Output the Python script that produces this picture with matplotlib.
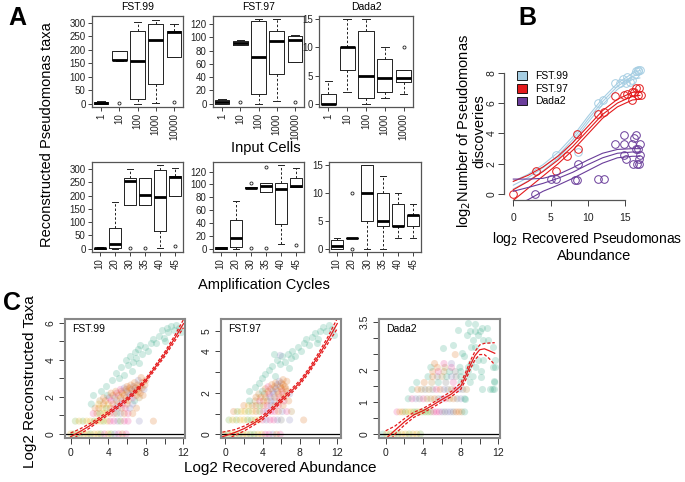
import matplotlib
matplotlib.use('Agg')
import matplotlib.pyplot as plt
from matplotlib.patches import Patch

plt.rcParams['font.family'] = ['Liberation Sans', 'DejaVu Sans']

W, H = 685, 482
fig = plt.figure(figsize=(W / 100, H / 100), dpi=100)


def px_ax(l, t, r, b):
    # axes placed by pixel box (left, top, right, bottom)
    return fig.add_axes([l / W, 1 - b / H, (r - l) / W, (b - t) / H])


#----------------------------------------------------------------------
# Panel A data : (whisker low, q1, median, q3, whisker high)
cells_labels = ['1', '10', '100', '1000', '10000']
cycle_labels = ['10', '20', '30', '35', '40', '45']

fst99_cells = [(0, 0, 2, 6, 8), (158, 160, 163, 195, 197), (0, 16, 158, 269, 302),
               (2, 74, 236, 296, 312), (174, 174, 265, 271, 294)]
fst99_cells_out = [[], [2], [], [], [5]]
fst97_cells = [(0, 0, 2, 6, 7), (88, 89, 91, 95, 96), (0, 15, 70, 125, 127),
               (4, 44, 95, 110, 127), (63, 63, 96, 102, 103)]
fst97_cells_out = [[], [2], [], [], [2]]
dada2_cells = [(0, 0, 0, 1.8, 4), (2, 6, 10, 10, 15), (0, 1, 4.9, 13, 15),
               (1, 2, 4.5, 8, 10), (1.8, 3.9, 4.6, 6, 6)]
dada2_cells_out = [[], [], [], [], [10]]

fst99_cycles = [(0, 0, 2, 4, 5), (0, 2.5, 17, 77, 176), (163, 163, 254, 266, 300),
                (163, 163, 204, 267, 267), (4, 68, 194, 296, 315), (197, 197, 272, 275, 304)]
fst99_cycles_out = [[], [], [2], [2], [], [10]]
fst97_cycles = [(0, 0, 1, 2, 2), (0, 2, 16, 44, 75), (94, 94, 95, 96, 96),
                (89, 89, 98, 103, 103), (8, 39, 93, 103, 130), (96, 96, 97, 110, 125)]
fst97_cycles_out = [[], [], [1, 103], [1, 127], [], [6]]
dada2_cycles = [(0, 0, 0.5, 1.5, 2), (2, 2, 2, 2, 2), (0, 5, 10, 15, 15),
                (0, 4, 5, 10, 13), (2, 4, 4, 8, 10), (2, 4, 6, 6, 8)]
dada2_cycles_out = [[], [0, 10], [], [], [], []]

#----------------------------------------------------------------------
# Panel B data
b99_x = [5.8, 8.7, 11.4, 12.1, 13.6, 14.3, 14.8, 15.2, 15.7, 16.0, 16.3, 16.5, 16.8, 17.0, 16.7, 15.3]
b99_y = [2.6, 2.8, 6.0, 6.2, 7.3, 7.3, 7.6, 7.3, 7.4, 7.5, 7.9, 8.1, 8.2, 8.2, 8.1, 7.7]
b97_x = [0.0, 3.0, 5.7, 7.2, 8.5, 8.7, 11.4, 12.2, 13.7, 14.9, 15.3, 15.9, 16.0, 16.2, 16.5, 16.9, 16.8, 17.1]
b97_y = [0.0, 1.56, 1.56, 2.54, 3.95, 3.0, 5.25, 5.4, 6.45, 6.5, 6.6, 6.2, 6.7, 6.75, 7.0, 7.0, 6.55, 6.5]
bd2_x = [2.9, 5.1, 5.8, 8.3, 8.6, 8.7, 11.4, 12.2, 13.7, 14.9, 14.9, 14.9, 15.2, 15.9, 16.2,
         16.5, 16.5, 16.1, 16.6, 16.9, 16.9, 17.0, 17.0, 16.8]
bd2_y = [0.0, 1.0, 1.0, 0.95, 0.95, 2.0, 1.0, 1.0, 3.3, 3.9, 3.3, 2.6, 2.3, 3.3, 3.7,
         3.9, 3.0, 2.0, 2.0, 2.0, 2.3, 2.6, 3.3, 3.0]

# loess fits (lower, centre, upper)
bfit_x = [0, 2, 4, 6, 8, 10, 12, 14, 16, 17]
b99_mid = [0.6, 1.1, 1.75, 2.55, 3.6, 4.9, 6.1, 7.1, 7.75, 7.9]
b99_lo = [0.35, 0.88, 1.55, 2.35, 3.4, 4.7, 5.9, 6.9, 7.55, 7.65]
b99_hi = [0.85, 1.32, 1.95, 2.75, 3.8, 5.1, 6.3, 7.3, 7.95, 8.15]
b97_mid = [0.3, 0.85, 1.5, 2.25, 3.15, 4.2, 5.25, 6.0, 6.45, 6.5]
b97_lo = [-0.4, 0.4, 1.2, 2.0, 2.9, 3.95, 5.0, 5.75, 6.2, 6.25]
b97_hi = [0.85, 1.25, 1.8, 2.5, 3.4, 4.45, 5.5, 6.25, 6.7, 6.75]
bd2_mid = [0.2, 0.45, 0.72, 1.05, 1.45, 1.95, 2.4, 2.7, 2.78, 2.78]
bd2_lo = [-0.8, -0.35, 0.2, 0.6, 1.05, 1.55, 2.05, 2.4, 2.5, 2.5]
bd2_hi = [1.0, 1.0, 1.05, 1.3, 1.75, 2.25, 2.7, 2.95, 3.0, 3.0]

#----------------------------------------------------------------------
# Panel C data : rows of (y level, x values, colour codes)
dark2 = {'g': '#1B9E77', 'o': '#D95F02', 'p': '#7570B3', 'k': '#E7298A',
         'l': '#66A61E', 'y': '#E6AB02', 'b': '#A6761D', 'n': '#666666'}

c99_rows = [
    (0.00, [0.0, 0.3, 0.7, 1.0, 1.4, 1.8, 2.1, 2.5, 2.9, 3.2, 3.6, 4.0, 4.3, 4.7, 5.1, 5.5, 5.9], 'ylylyylyylkylpkok'),
    (0.69, [0.5, 0.9, 1.3, 1.7, 2.1, 2.5, 2.8, 3.2, 3.5, 3.9, 4.2, 4.6, 5.0, 5.3, 5.7, 6.1, 7.3, 8.8], 'lylyylyylykkplkkpo'),
    (1.10, [2.4, 2.8, 3.1, 3.5, 3.8, 4.2, 4.6, 4.9, 5.3, 5.7, 6.1, 6.6], 'kolyyoklpoko'),
    (1.39, [2.6, 3.0, 3.4, 3.8, 4.2, 4.6, 5.0, 5.4, 5.8, 6.3, 7.0], 'ooylokpokpo'),
    (1.61, [2.2, 3.0, 3.5, 4.0, 4.5, 5.0, 5.5, 6.0, 6.6], 'gyoyopkop'),
    (1.79, [3.1, 3.7, 4.3, 4.9, 5.5, 6.1, 6.8], 'bokopog'),
    (1.95, [3.5, 4.1, 4.7, 5.3, 5.9, 6.6, 7.3], 'okpookb'),
    (2.08, [3.9, 4.5, 5.1, 5.7, 6.3, 7.0, 7.7], 'gooopoo'),
    (2.20, [4.3, 4.9, 5.5, 6.1, 6.7, 7.4], 'okopoo'),
    (2.30, [4.8, 5.4, 6.0, 6.6, 7.2], 'ooopo'),
    (2.40, [5.3, 5.9, 6.5, 7.1, 7.8], 'kooop'),
    (2.48, [5.7, 6.3, 6.9, 7.6], 'pooo'),
    (2.56, [6.0, 6.7, 7.4], 'opo'),
    (2.64, [6.4, 7.1, 7.9], 'ooo'),
    (2.77, [6.8, 7.6], 'oo'),
    (2.89, [7.2, 8.0], 'po'),
    (3.04, [7.5], 'o'),
]
c99_gx = [2.4, 3.2, 3.8, 4.4, 4.8, 5.1, 5.4, 5.7, 5.9, 6.1, 6.3, 6.6, 6.8, 7.0, 7.2, 7.4, 7.6, 7.9,
          8.2, 8.5, 8.8, 9.1, 9.4, 9.7, 9.9, 10.2, 10.4, 10.7, 11.0, 11.2, 11.5, 11.7, 10.0, 6.5, 7.3]
c99_gy = [2.1, 2.3, 2.6, 2.9, 3.3, 3.0, 3.6, 3.2, 4.0, 3.7, 4.2, 3.9, 4.4, 4.1, 4.6, 4.8, 4.3, 4.7,
          4.5, 4.9, 5.1, 4.9, 5.3, 5.6, 5.2, 5.7, 5.5, 5.8, 5.6, 5.9, 5.7, 5.5, 5.0, 3.4, 3.8]

c97_rows = [
    (0.00, [-0.1, 0.3, 0.7, 1.1, 1.5, 1.9, 2.3, 2.7, 3.1, 3.5, 3.9, 4.3, 4.7, 5.1, 5.5, 5.9], 'ylyylyyllyykkpok'),
    (0.69, [0.4, 0.8, 1.2, 1.6, 2.0, 2.4, 2.8, 3.2, 3.6, 4.0, 4.4, 4.8, 5.2, 5.6, 6.0, 6.9, 8.4], 'lylyyllyykpkkpnpo'),
    (1.10, [0.9, 1.3, 1.7, 2.1, 2.5, 2.9, 3.3, 3.7, 4.1, 4.5, 4.9, 5.3, 5.7, 6.1, 6.6, 7.1], 'olyylyolkpkkopkb'),
    (1.39, [2.0, 2.5, 2.9, 3.3, 3.7, 4.1, 4.5, 4.9, 5.3, 5.7, 6.2], 'oybolokpoko'),
    (1.61, [2.6, 3.2, 3.7, 4.1, 4.5, 4.9, 5.3, 5.8, 6.3, 6.8], 'gbkooppoko'),
    (1.79, [3.3, 3.8, 4.3, 4.8, 5.3, 5.8, 6.3], 'oobpoko'),
    (1.95, [3.6, 4.2, 4.7, 5.2, 5.7, 6.2, 6.9], 'bokpoop'),
    (2.08, [4.0, 4.6, 5.1, 5.6, 6.1, 6.6], 'gopoko'),
    (2.20, [4.3, 4.9, 5.4, 6.0, 6.5], 'oopoo'),
    (2.30, [4.6, 5.3, 5.9, 6.4], 'kooo'),
    (2.40, [5.0, 5.6, 6.2], 'opo'),
    (2.48, [5.4, 6.0], 'oo'),
    (2.56, [5.8, 6.6], 'po'),
    (2.64, [6.2], 'o'),
    (3.81, [5.9], 'p'),
]
c97_gx = [2.6, 3.2, 3.6, 3.9, 4.3, 4.7, 5.0, 5.3, 5.6, 5.9, 6.1, 6.4, 6.7, 7.0, 7.2, 7.5, 7.8,
          8.1, 8.4, 8.7, 9.0, 9.3, 9.6, 9.9, 10.2, 10.5, 10.8, 11.1, 11.4, 11.7, 9.8, 6.8, 5.2]
c97_gy = [2.1, 2.3, 2.5, 2.7, 2.9, 3.1, 3.3, 2.8, 3.6, 3.4, 3.8, 3.5, 3.9, 3.7, 4.0, 3.8, 4.2,
          4.0, 4.4, 4.6, 4.3, 4.7, 4.9, 4.6, 5.0, 5.2, 5.0, 5.3, 5.1, 4.8, 4.4, 3.2, 3.9]

cd2_rows = [
    (0.00, [-0.3, 0.1, 0.5, 0.9, 1.3, 1.7, 2.1, 2.5, 2.9, 3.3, 3.7], 'gylylyylyyl'),
    (0.69, [1.2, 1.5, 1.8, 2.1, 2.4, 2.7, 3.0, 3.3, 3.6, 3.9, 4.2, 4.5, 4.8, 5.1, 5.4, 5.7,
            6.0, 6.3, 6.6, 6.9, 7.2, 7.5, 7.8, 8.1, 8.4], 'kyolyyllyllllkkkpnppnoobg'),
    (1.10, [2.4, 2.8, 3.2, 3.6, 4.0, 4.4, 4.8, 5.2, 5.6, 6.0, 6.4, 6.8, 7.2, 7.6, 8.0, 8.4], 'gkpnkbbonpkbonpg'),
    (1.39, [2.8, 3.4, 3.8, 4.2, 4.6, 5.0, 5.4, 5.8, 6.2, 6.6, 7.0, 7.4, 7.8, 8.2, 8.6, 10.3, 11.4],
     'gobnbnkopnbkpnbgg'),
    (1.61, [3.3, 4.1, 4.9, 5.6, 6.4, 7.2, 8.0, 9.0, 11.6], 'gobgnkggg'),
    (1.79, [4.5, 5.0, 5.5, 6.0, 6.5, 7.0, 7.5, 8.0, 8.6, 9.3], 'gonbgpnggg'),
    (1.95, [5.0, 5.6, 6.2, 6.8, 7.4, 8.0, 8.8], 'okbgngg'),
    (2.08, [4.8, 5.5, 6.3, 7.0, 7.9, 8.8, 9.6], 'gobkggg'),
    (2.20, [5.2, 6.2, 7.0, 9.1], 'okpg'),
    (2.48, [7.4], 'o'),
]
cd2_gx = [7.7, 8.8, 9.5, 9.0, 9.5, 10.0, 10.2, 10.8, 9.8, 9.3, 10.4, 10.9, 9.1, 9.5, 11.4, 8.1, 8.3,
          9.8, 10.3, 11.6, 11.4, 11.6, 10.1, 10.1, 11.5, 11.1, 11.5, 6.1, 7.2, 8.6, 8.4]
cd2_gy = [3.25, 3.46, 3.44, 3.2, 3.2, 3.2, 3.3, 3.3, 3.09, 2.92, 2.92, 2.92, 2.73, 2.73, 2.73, 2.52, 2.45,
          2.31, 2.31, 2.31, 2.1, 2.1, 1.97, 1.79, 1.64, 1.40, 1.40, 2.67, 2.77, 3.1, 1.10]

# red fits : x, centre, band
c99_fx = [0, 1, 2, 3, 4, 5, 6, 7, 8, 9, 10, 11, 12]
c99_mid = [-0.15, 0.13, 0.43, 0.77, 1.12, 1.48, 1.86, 2.35, 2.9, 3.6, 4.3, 5.1, 5.95]
c99_band = [0.2, 0.14, 0.12, 0.1, 0.1, 0.1, 0.1, 0.1, 0.1, 0.11, 0.12, 0.15, 0.22]
c97_fx = [-0.3, 1, 2, 3, 4, 5, 6, 7, 8, 9, 10, 11, 12]
c97_mid = [-0.12, 0.08, 0.27, 0.52, 0.8, 1.2, 1.65, 2.05, 2.5, 3.1, 3.8, 4.55, 5.35]
c97_band = [0.22, 0.14, 0.12, 0.1, 0.1, 0.1, 0.1, 0.1, 0.1, 0.11, 0.13, 0.16, 0.25]
cd2_fx = [0, 1, 2, 3, 4, 5, 6, 7, 8, 8.5, 9, 9.5, 10, 10.5, 11, 11.6]
cd2_mid = [-0.15, 0.12, 0.38, 0.6, 0.73, 0.9, 1.08, 1.25, 1.5, 1.8, 2.15, 2.45, 2.63, 2.66, 2.6, 2.52]
cd2_lo = [-0.4, 0.0, 0.28, 0.52, 0.66, 0.83, 1.0, 1.17, 1.4, 1.68, 2.02, 2.32, 2.48, 2.48, 2.36, 2.16]
cd2_hi = [0.1, 0.25, 0.48, 0.68, 0.8, 0.97, 1.16, 1.33, 1.6, 1.92, 2.28, 2.58, 2.78, 2.83, 2.84, 2.85]

#----------------------------------------------------------------------
# Panel A : boxplots
def box_panel(ax, stats, outs, labels, yticks, ylim, title=None):
    bs = [dict(whislo=s[0], q1=s[1], med=s[2], q3=s[3], whishi=s[4], fliers=o)
          for s, o in zip(stats, outs)]
    pos = list(range(1, len(bs) + 1))
    ax.bxp(bs, positions=pos, widths=0.8, capwidths=0.4,
           boxprops=dict(color='#222222', lw=0.7),
           medianprops=dict(color='black', lw=2.0),
           whiskerprops=dict(color='#222222', lw=0.7, ls=(0, (2.5, 2))),
           capprops=dict(color='#222222', lw=0.7),
           flierprops=dict(marker='o', ms=2.2, mfc='none', mec='#222222', mew=0.6))
    ax.set_xlim(0.5, len(bs) + 0.5)
    ax.set_ylim(*ylim)
    ax.set_yticks(yticks)
    ax.set_xticks(pos, labels, rotation=90)
    ax.tick_params(labelsize=7, length=3, width=0.6, pad=1.5, colors='#222222')
    for s in ax.spines.values():
        s.set_color('#555555')
        s.set_linewidth(0.9)
    if title:
        ax.set_title(title, fontsize=7.5, pad=4)


ax = px_ax(92, 16, 183, 107)
box_panel(ax, fst99_cells, fst99_cells_out, cells_labels, range(0, 301, 50), (-12.5, 325), 'FST.99')
ax = px_ax(213, 16, 304, 107)
box_panel(ax, fst97_cells, fst97_cells_out, cells_labels, range(0, 121, 20), (-5.1, 132), 'FST.97')
ax = px_ax(319, 16, 413, 107)
box_panel(ax, dada2_cells, dada2_cells_out, cells_labels, range(0, 16, 5), (-0.6, 15.6), 'Dada2')
ax = px_ax(92, 162, 183, 252)
box_panel(ax, fst99_cycles, fst99_cycles_out, cycle_labels, range(0, 301, 50), (-12.6, 327))
ax = px_ax(213, 162, 304, 252)
box_panel(ax, fst97_cycles, fst97_cycles_out, cycle_labels, range(0, 121, 20), (-5.2, 135))
ax = px_ax(329, 162, 421, 252)
box_panel(ax, dada2_cycles, dada2_cycles_out, cycle_labels, range(0, 16, 5), (-0.6, 15.6))

fig.text(47 / W, 1 - 135 / H, 'Reconstructed Pseudomonas taxa', rotation=90,
         ha='center', va='center', fontsize=10.5)
fig.text(266 / W, 1 - 148 / H, 'Input Cells', ha='center', va='center', fontsize=10.5)
fig.text(264 / W, 1 - 285 / H, 'Amplification Cycles', ha='center', va='center', fontsize=10.5)

#----------------------------------------------------------------------
# Panel B : discoveries vs abundance
axb = px_ax(504, 65, 648, 200)
series_b = [
    (b99_x, b99_y, b99_lo, b99_mid, b99_hi, '#A6CEE3', 'FST.99'),
    (b97_x, b97_y, b97_lo, b97_mid, b97_hi, '#E31A1C', 'FST.97'),
    (bd2_x, bd2_y, bd2_lo, bd2_mid, bd2_hi, '#6A3D9A', 'Dada2'),
]
handles = []
for xs, ys, lo, mid, hi, col, lab in series_b:
    axb.plot(xs, ys, 'o', ms=5.5, mfc='none', mec=col, mew=0.7)
    for line in (lo, mid, hi):
        axb.plot(bfit_x, line, color=col, lw=0.8)
    handles.append(Patch(facecolor=col, edgecolor='black', lw=0.6, label=lab))
axb.set_xlim(-1.25, 18.1)
axb.set_ylim(-0.375, 8.5)
axb.set_xticks([0, 5, 10, 15])
axb.set_yticks([0, 2, 4, 6, 8])
for side in ('top', 'right'):
    axb.spines[side].set_visible(False)
axb.spines['left'].set_bounds(0, 8)
axb.spines['bottom'].set_bounds(0, 15)
for side in ('left', 'bottom'):
    axb.spines[side].set_color('#555555')
    axb.spines[side].set_linewidth(0.9)
axb.tick_params(labelsize=7.5, length=4, width=0.6, colors='#222222')
axb.tick_params(axis='y', pad=1.5)
axb.tick_params(axis='x', pad=5)
for t in axb.get_yticklabels():
    t.set_rotation(90)
    t.set_va('center')
axb.legend(handles=handles, loc='upper left', bbox_to_anchor=(0.05, 1.0), frameon=False,
           fontsize=7.5, handlelength=0.9, handleheight=0.9, handletextpad=0.8,
           labelspacing=0.25, borderaxespad=0.2)
fig.text(471 / W, 1 - 131 / H, 'log$_2$Number of Pseudomonas\ndiscoveries', rotation=90,
         ha='center', va='center', multialignment='center', linespacing=0.95, fontsize=10.5)
fig.text(587 / W, 1 - 239 / H, r'log$_2$ Recovered Pseudomonas', ha='center', va='center', fontsize=10)
fig.text(594 / W, 1 - 256 / H, 'Abundance', ha='center', va='center', fontsize=10.5)

#----------------------------------------------------------------------
# Panel C : scatter with fits
def scatter_panel(ax, rows, gx, gy, fx, mid, lo, hi, name, xlim, ylim, yticks, ylabels):
    xs, ys, cs = [], [], []
    for yv, xv, codes in rows:
        for x, c in zip(xv, codes):
            xs.append(x)
            ys.append(yv)
            cs.append(dark2[c])
    ax.scatter(gx, gy, s=26, color=dark2['g'], alpha=0.2, lw=0)
    ax.scatter(xs, ys, s=26, c=cs, alpha=0.2, lw=0)
    ax.axhline(0, color='black', lw=0.9)
    ax.plot(fx, mid, color='#E41A1C', lw=0.9)
    ax.plot(fx, lo, color='#E41A1C', lw=0.9, ls=(0, (2.5, 1.5)))
    ax.plot(fx, hi, color='#E41A1C', lw=0.9, ls=(0, (2.5, 1.5)))
    ax.set_xlim(*xlim)
    ax.set_ylim(*ylim)
    ax.set_xticks(range(0, 13, 2), ['0', '', '4', '', '8', '', '12'])
    ax.set_yticks(yticks, ylabels)
    ax.tick_params(labelsize=7.5, length=4, width=0.6, colors='#222222', pad=3)
    for t in ax.get_yticklabels():
        t.set_rotation(90)
        t.set_va('center')
    for s in ax.spines.values():
        s.set_color('#888888')
        s.set_linewidth(1.5)
    ax.text(0.06, 0.92, name, transform=ax.transAxes, fontsize=7.5, va='center')


ax = px_ax(65, 319, 185, 438)
scatter_panel(ax, c99_rows, c99_gx, c99_gy, c99_fx, c99_mid,
              [m - b for m, b in zip(c99_mid, c99_band)], [m + b for m, b in zip(c99_mid, c99_band)],
              'FST.99', (-0.6, 12.16), (-0.22, 6.2), range(0, 7), ['0', '', '2', '', '4', '', '6'])
ax = px_ax(221, 319, 341, 438)
scatter_panel(ax, c97_rows, c97_gx, c97_gy, c97_fx, c97_mid,
              [m - b for m, b in zip(c97_mid, c97_band)], [m + b for m, b in zip(c97_mid, c97_band)],
              'FST.97', (-0.45, 12.4), (-0.18, 5.57), range(0, 6), ['0', '', '2', '', '4', '5'])
ax = px_ax(379, 319, 500, 438)
scatter_panel(ax, cd2_rows, cd2_gx, cd2_gy, cd2_fx, cd2_mid, cd2_lo, cd2_hi,
              'Dada2', (-0.71, 12.16), (-0.125, 3.59), [0, 0.5, 1, 1.5, 2, 2.5, 3, 3.5],
              ['0', '', '1', '', '2', '', '', '3.5'])

fig.text(30 / W, 1 - 382 / H, 'Log2 Reconstructed Taxa', rotation=90,
         ha='center', va='center', fontsize=11)
fig.text(280 / W, 1 - 468 / H, 'Log2 Recovered Abundance', ha='center', va='center', fontsize=11)

#----------------------------------------------------------------------
# panel letters
fig.text(8 / W, 1 - 18 / H, 'A', fontsize=18, fontweight='bold', va='center')
fig.text(518 / W, 1 - 18 / H, 'B', fontsize=18, fontweight='bold', va='center')
fig.text(3 / W, 1 - 303 / H, 'C', fontsize=18, fontweight='bold', va='center')

fig.savefig('out.png', dpi=100)
